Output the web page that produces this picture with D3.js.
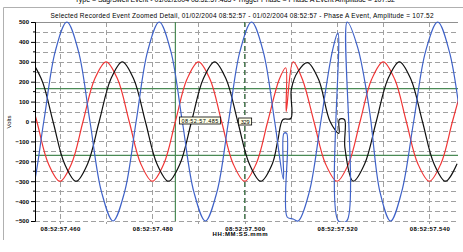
<!DOCTYPE html>
<html>
<head>
<meta charset="utf-8">
<script src="https://cdn.jsdelivr.net/npm/d3@7"></script>
<style>
  body { margin: 0; background: #fff; }
  text { font-family: "Liberation Sans", Arial, sans-serif; }
</style>
</head>
<body>
<div id="chart"></div>
<script>
// time in ms after 08:52:57, value in volts
var blueT = [451.5, 454, 456.5, 459, 461.5, 464, 466.5, 469, 471.5, 474, 476.5, 479, 481.5, 484, 486.5, 489, 491.5, 494, 496.5, 499, 501.5, 504, 506.5, 508.4, 508.5, 509.1, 509.2, 510.5, 511.6, 514, 516.5, 519, 520.2, 520.3, 522.1, 522.2, 524.5, 527, 529.3, 531.6, 534, 536.6, 539.2, 541.8, 544.3, 546.8];
var blueV = [-500, -354, 0, 354, 500, 354, 0, -354, -500, -354, 0, 354, 500, 354, 0, -354, -500, -354, 0, 354, 500, 354, 0, -290, -60, -60, -480, -490, -500, -354, 0, 354, 445, -500, -500, 500, 370, 60, -354, -500, -354, 0, 354, 500, 354, 0];

var redT = [452.5, 455, 457.5, 460, 462.5, 465, 467.5, 470, 472.5, 475, 477.5, 480, 482.5, 485, 487.5, 490, 492.5, 495, 497.5, 500, 502.5, 505, 507.5, 508.9, 509.0, 510.5, 512.5, 515, 517.5, 520, 522.5, 525, 527.5, 530, 532.5, 535, 537.5, 540, 542.5, 545, 547.5];
var redV = [212, 0, -212, -300, -212, 0, 212, 300, 212, 0, -212, -300, -212, 0, 212, 300, 212, 0, -212, -300, -212, 0, 212, 270, 50, 300, 212, 0, -212, -300, -212, 0, 212, 300, 212, 0, -212, -300, -212, 0, 212];

var blackT = [451, 453.5, 456, 458.5, 461, 463.5, 466, 468.5, 471, 473.5, 476, 478.5, 481, 483.5, 486, 488.5, 491, 493.5, 496, 498.5, 501, 503.5, 506, 507.2, 508.3, 510.0, 510.1, 511.5, 513.6, 516, 518.5, 520.4, 520.5, 521.6, 521.7, 523.5, 526, 528.5, 531, 533.5, 536, 538.5, 541, 543.5, 546];
var blackV = [212, 300, 212, 0, -212, -300, -212, 0, 212, 300, 212, 0, -212, -300, -212, 0, 212, 300, 212, 0, -212, -300, -212, -93, 10, 15, 160, 250, 296, 212, 0, -60, 10, 10, -130, -300, -212, 0, 212, 300, 212, 0, -212, -300, -212];

var xTicks = [460, 480, 500, 520, 540];
var yTicks = [-500, -400, -300, -200, -100, 0, 100, 200, 300, 400, 500];
var limitLines = [165, -170];
var cursorTimes = [485, 500];
var cursorLabels = ["08:52:57.485", "329"];

var titleText = "Selected Recorded Event Zoomed Detail, 01/02/2004 08:52:57 - 01/02/2004 08:52:57 - Phase A Event, Amplitude = 107.52";
var topText = "Type = Sag/Swell Event - 01/02/2004 08:52:57.485 - Trigger Phase = Phase A Event Amplitude = 107.52";

var width = 463, height = 252;
var margin = {top: 22, right: 5, bottom: 31, left: 35};

var svg = d3.select("#chart").append("svg")
  .attr("width", width)
  .attr("height", height);

var x = d3.scaleLinear().domain([454.6, 546.2]).range([margin.left, width - margin.right]);
var y = d3.scaleLinear().domain([-500, 500]).range([height - margin.bottom, margin.top]);

// outer frame
svg.append("path")
  .attr("d", "M3.5,240 V7.5 H463")
  .attr("fill", "none")
  .attr("stroke", "#b0b0b0");

// header line, cut off by the top of the window like in the original
svg.append("text")
  .attr("x", 235).attr("y", 1.8)
  .attr("text-anchor", "middle")
  .attr("font-size", 7)
  .attr("textLength", 320)
  .text(topText);

svg.append("text")
  .attr("x", 242).attr("y", 18)
  .attr("text-anchor", "middle")
  .attr("font-size", 6.5)
  .attr("textLength", 383)
  .text(titleText);

// grid
var grid = svg.append("g").attr("stroke", "#a0a0a0").attr("stroke-dasharray", "5,3");
grid.selectAll("line.h")
  .data(d3.range(-500, 500, 50))
  .enter().append("line")
  .attr("x1", x.range()[0]).attr("x2", x.range()[1])
  .attr("y1", function(d) { return Math.round(y(d)) + 0.5; })
  .attr("y2", function(d) { return Math.round(y(d)) + 0.5; });
grid.selectAll("line.v")
  .data(d3.range(460, 546, 10))
  .enter().append("line")
  .attr("x1", function(d) { return Math.round(x(d)) + 0.5; })
  .attr("x2", function(d) { return Math.round(x(d)) + 0.5; })
  .attr("y1", y(500)).attr("y2", y(-500) + 3);

// top border of plot
svg.append("line")
  .attr("x1", x.range()[0]).attr("x2", x.range()[1])
  .attr("y1", Math.round(y(500)) + 0.5).attr("y2", Math.round(y(500)) + 0.5)
  .attr("stroke", "#909090");

// limit lines and cursors
svg.selectAll("line.limit")
  .data(limitLines)
  .enter().append("line")
  .attr("x1", x.range()[0]).attr("x2", x.range()[1])
  .attr("y1", function(d) { return y(d); })
  .attr("y2", function(d) { return y(d); })
  .attr("stroke", "#4a8a55").attr("stroke-width", 1.2);

svg.append("line")
  .attr("x1", x(cursorTimes[0])).attr("x2", x(cursorTimes[0]))
  .attr("y1", y(500)).attr("y2", y(-500))
  .attr("stroke", "#4a8a55").attr("stroke-width", 1.2);
svg.append("line")
  .attr("x1", x(cursorTimes[1])).attr("x2", x(cursorTimes[1]))
  .attr("y1", y(500)).attr("y2", y(-500))
  .attr("stroke", "#2f6f3a").attr("stroke-dasharray", "5,3");

// waveforms
var line = d3.line()
  .x(function(d) { return x(d[0]); })
  .y(function(d) { return y(d[1]); })
  .curve(d3.curveCatmullRom.alpha(0.5));

var series = [
  {t: redT, v: redV, color: "#f03535"},
  {t: blackT, v: blackV, color: "#111111"},
  {t: blueT, v: blueV, color: "#3f62c8"}
];

svg.append("clipPath").attr("id", "plot")
  .append("rect")
  .attr("x", x.range()[0]).attr("y", y(500) - 1)
  .attr("width", x.range()[1] - x.range()[0]).attr("height", y(-500) - y(500) + 2);

svg.append("g").attr("clip-path", "url(#plot)")
  .selectAll("path")
  .data(series)
  .enter().append("path")
  .attr("fill", "none")
  .attr("stroke", function(s) { return s.color; })
  .attr("stroke-width", 1.2)
  .attr("d", function(s) { return line(s.t.map(function(t, i) { return [t, s.v[i]]; })); });

// cursor labels
var boxes = [
  {x: x(cursorTimes[0]) + 4, y: 117, w: 41, text: cursorLabels[0]},
  {x: x(cursorTimes[1]) - 6, y: 118, w: 13, text: cursorLabels[1]}
];
boxes.forEach(function(b) {
  svg.append("rect")
    .attr("x", b.x).attr("y", b.y)
    .attr("width", b.w).attr("height", 7)
    .attr("fill", "#ffffe8").attr("stroke", "#000").attr("stroke-width", 0.8);
  svg.append("text")
    .attr("x", b.x + b.w / 2).attr("y", b.y + 5.5)
    .attr("text-anchor", "middle")
    .attr("font-size", 5.5)
    .attr("textLength", b.w - 4)
    .text(b.text);
});

// Y axis
var yAxis = svg.append("g")
  .attr("transform", "translate(" + margin.left + ",0)")
  .call(d3.axisLeft(y).tickValues(yTicks).tickSize(4).tickPadding(2).tickFormat(d3.format("d")));
yAxis.selectAll("text").attr("font-size", 6).attr("font-weight", "bold");
yAxis.selectAll(".minor")
  .data(d3.range(-450, 500, 100))
  .enter().append("line")
  .attr("x1", -2).attr("x2", 0)
  .attr("y1", function(d) { return y(d); })
  .attr("y2", function(d) { return y(d); })
  .attr("stroke", "#000");

svg.append("text")
  .attr("transform", "rotate(-90)")
  .attr("x", -122).attr("y", 11)
  .attr("text-anchor", "middle")
  .attr("font-size", 6)
  .text("Volts");

// X axis
var xAxis = svg.append("g")
  .attr("transform", "translate(0," + y(-500) + ")")
  .call(d3.axisBottom(x).tickValues(xTicks).tickSize(0).tickPadding(6)
    .tickFormat(function(d) { return "08:52:57." + d; }));
xAxis.select(".domain").remove();
xAxis.selectAll("text").attr("font-size", 6).attr("font-weight", "bold").attr("textLength", 40);

svg.append("text")
  .attr("x", 240).attr("y", 236)
  .attr("text-anchor", "middle")
  .attr("font-size", 6)
  .attr("font-weight", "bold")
  .attr("textLength", 55)
  .text("HH:MM:SS.mmm");
</script>
</body>
</html>
